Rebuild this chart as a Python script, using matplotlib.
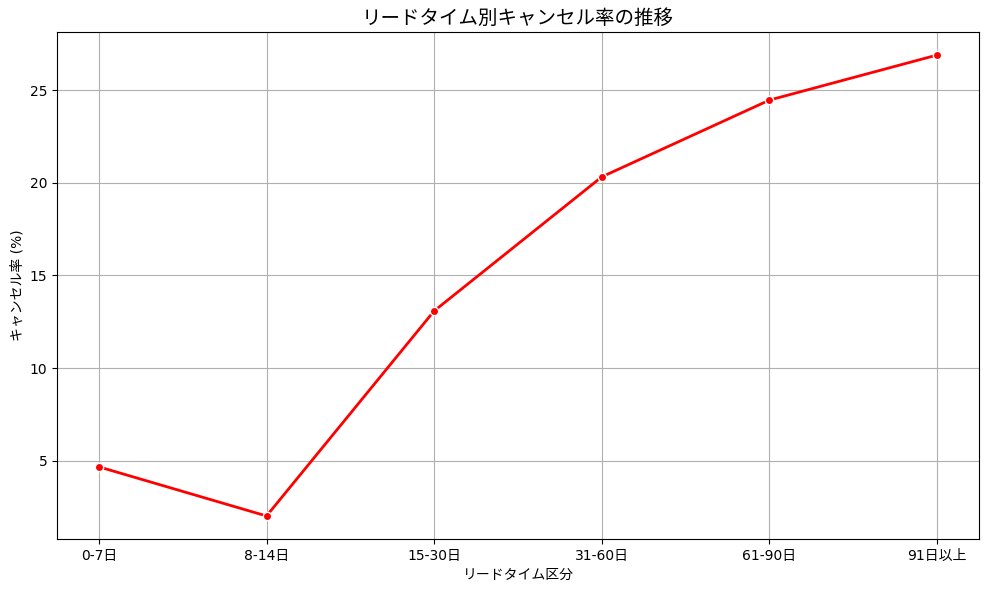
import matplotlib
matplotlib.use("Agg")
import matplotlib.pyplot as plt

plt.rcParams['font.family'] = ['DejaVu Sans', 'Noto Sans CJK JP']

# リードタイム区分ごとのキャンセル率
lead_bins = ["0-7日", "8-14日", "15-30日", "31-60日", "61-90日", "91日以上"]
cancel_rate = [4.68, 2.03, 13.09, 20.32, 24.46, 26.89]

fig, ax = plt.subplots(figsize=(9.89, 5.9), dpi=100)
ax.plot(lead_bins, cancel_rate, color="red", linewidth=2,
        marker="o", markersize=6, markeredgecolor="white", markeredgewidth=1)

ax.set_title("リードタイム別キャンセル率の推移", fontsize=14)
ax.set_xlabel("リードタイム区分")
ax.set_ylabel("キャンセル率 (%)")
ax.grid(True)

fig.subplots_adjust(left=0.0576, right=0.9899, top=0.9458, bottom=0.0864)
plt.savefig("out.png")
